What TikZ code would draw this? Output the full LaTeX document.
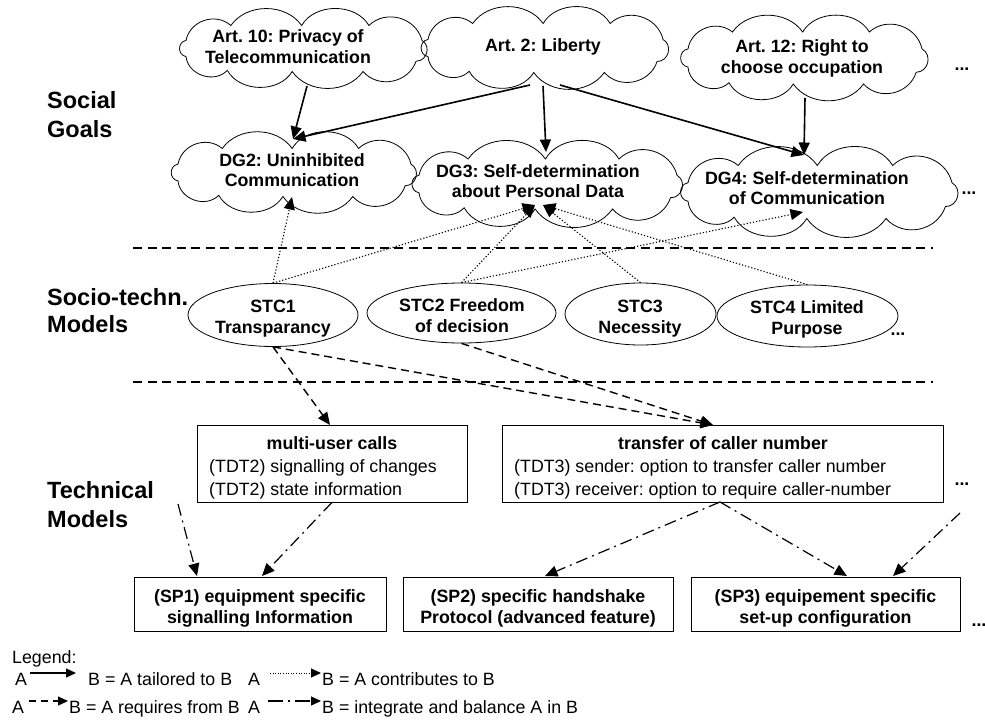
\documentclass[tikz,border=0pt]{standalone}
\usepackage{fontspec}
\setmainfont{Liberation Sans}
\usetikzlibrary{shapes.geometric,arrows.meta,calc}
\frenchspacing
\newcommand{\drawcloud}[5]{%
  \coordinate (#1) at (#2,#3);
  \pgfmathsetmacro{\cA}{#4/2-6}%
  \pgfmathsetmacro{\cB}{#5/2-14}%
  \draw[cloudline] ($(#1)+(-\cA,-0.35*\cB)$)
   \foreach \cu/\cv/\bd/\lo in {-0.62/-1/60/1.1, -0.02/-1/55/1, 0.55/-1/60/1, 1/-0.35/60/1.1, 0.95/0.55/75/1.3, 0.5/1/60/1.1, -0.1/1/55/1, -0.65/0.95/60/1, -1/0.35/65/1.1, -1/-0.35/80/1.4}
   { to[bend left=\bd, looseness=\lo] ($(#1)+(\cu*\cA,\cv*\cB)$) } -- cycle;
}
\begin{document}
\begin{tikzpicture}[x=1pt,y=-1pt,
 cloudline/.style={draw, line width=0.8pt},
 ctext/.style={font=\fontsize{17.8}{20}\selectfont\bfseries, inner sep=0pt, anchor=base},
 rowlbl/.style={font=\fontsize{23.5}{28}\selectfont\bfseries, inner sep=0pt, anchor=base west},
 oval/.style={ellipse, draw, line width=0.8pt, inner sep=0pt},
 tbox/.style={rectangle, draw, line width=0.8pt, inner sep=0pt},
 ntext/.style={font=\fontsize{17.8}{20}\selectfont, inner sep=0pt, anchor=base west},
 tip/.style={-{Triangle[length=12.5pt,width=11pt]}},
 smalltip/.style={-{Triangle[length=10pt,width=9pt]}},
 tailored/.style={line width=1.6pt},
 requires/.style={line width=1.4pt, dash pattern=on 8pt off 5pt},
 contrib/.style={line width=1.1pt, dash pattern=on 1.2pt off 2pt},
 integ/.style={line width=1.2pt, dash pattern=on 12pt off 5pt on 2pt off 5pt},
 sep/.style={line width=1.6pt, dash pattern=on 9pt off 5.5pt},
 dots/.style={font=\fontsize{17.8}{20}\selectfont\bfseries, inner sep=0pt},
]
\useasboundingbox (0,0) rectangle (985,720);

% row labels
\node[rowlbl] (rl1) at (47,108) {Social};
\node[rowlbl] (rl2) at (47,137) {Goals};
\node[rowlbl] (rl3) at (47,305) {Socio-techn.};
\node[rowlbl] (rl4) at (47,332) {Models};
\node[rowlbl] (rl5) at (47,498) {Technical};
\node[rowlbl] (rl6) at (47,527) {Models};

% clouds
\drawcloud{art10}{304}{48.5}{248}{74}
\drawcloud{art2}{545.5}{48}{247}{77}
\drawcloud{art12}{805}{58}{246}{80}
\drawcloud{dg2}{294.5}{172.5}{245}{76}
\drawcloud{dg3}{548}{184}{270}{78}
\drawcloud{dg4}{820}{192}{276}{81}

\node[ctext] (art10a) at (288,42) {Art. 10: Privacy of};
\node[ctext] (art10b) at (288,63) {Telecommunication};
\node[ctext] (art2a) at (543,51) {Art. 2: Liberty};
\node[ctext] (art12a) at (802,52) {Art. 12: Right to};
\node[ctext] (art12b) at (802,73) {choose occupation};
\node[ctext] (dg2a) at (292,166) {DG2: Uninhibited};
\node[ctext] (dg2b) at (292,186) {Communication};
\node[ctext] (dg3a) at (538,177) {DG3: Self-determination};
\node[ctext] (dg3b) at (538,197) {about Personal Data};
\node[ctext] (dg4a) at (807,184) {DG4: Self-determination};
\node[ctext] (dg4b) at (807,204) {of Communication};

\node[dots] (d1) at (962,69) {...};
\node[dots] (d2) at (969,193) {...};

% separators
\coordinate (s1a) at (133,248); \coordinate (s1b) at (933,248);
\coordinate (s2a) at (133,382); \coordinate (s2b) at (933,382);
\draw[sep] (s1a) -- (s1b);
\draw[sep] (s2a) -- (s2b);

% tailored arrows
\coordinate (art10out) at (307,86);
\coordinate (art2outL) at (530,85);
\coordinate (art2outM) at (543,86);
\coordinate (art2outR) at (560,85);
\coordinate (art12out) at (805,98);
\coordinate (dg2in) at (293,139);
\coordinate (dg3in) at (546,152);
\coordinate (dg4in) at (804,155);
\draw[tailored,tip] (art10out) -- (dg2in);
\draw[tailored,tip] (art2outL) -- (dg2in);
\draw[tailored,tip] (art2outM) -- (dg3in);
\draw[tailored,tip] (art2outR) -- (dg4in);
\draw[tailored,tip] (art12out) -- (dg4in);

% STC ellipses
\node[oval, minimum width=170pt, minimum height=63pt] (stc1) at (273,315) {};
\node[oval, minimum width=189pt, minimum height=60pt] (stc2) at (461.5,313) {};
\node[oval, minimum width=151pt, minimum height=62pt] (stc3) at (640.5,314) {};
\node[oval, minimum width=181pt, minimum height=62pt] (stc4) at (807.5,316) {};
\node[ctext] (stc1a) at (273,312) {STC1};
\node[ctext] (stc1b) at (273,333) {Transparancy};
\node[ctext] (stc2a) at (462,311) {STC2 Freedom};
\node[ctext] (stc2b) at (462,332) {of decision};
\node[ctext] (stc3a) at (640,312) {STC3};
\node[ctext] (stc3b) at (640,333) {Necessity};
\node[ctext] (stc4a) at (807,313) {STC4 Limited};
\node[ctext] (stc4b) at (807,334) {Purpose};
\node[dots] (d3) at (898,334) {...};

% contributes arrows
\coordinate (dg2bot) at (292,197);
\coordinate (dg3botL) at (535,205);
\coordinate (dg3botR) at (543,205);
\coordinate (dg4bot) at (803,212);
\draw[contrib,tip] (stc1.north) -- (dg2bot);
\draw[contrib,tip] (stc1.north) -- (dg3botL);
\draw[contrib,tip] (stc2.north) -- (dg3botL);
\draw[contrib,tip] (stc2.north) -- (dg4bot);
\draw[contrib,tip] (stc3.north) -- (dg3botR);
\draw[contrib,tip] (stc4.north) -- (dg3botR);

% technical boxes
\node[tbox, minimum width=270pt, minimum height=77pt] (mu) at (332,463.5) {};
\node[tbox, minimum width=441pt, minimum height=77pt] (tr) at (722.5,463.5) {};
\node[ctext] (mua) at (332,449) {multi-user calls};
\node[ntext] (mub) at (209,472) {(TDT2) signalling of changes};
\node[ntext] (muc) at (209,495) {(TDT2) state information};
\node[ctext] (tra) at (723,449) {transfer of caller number};
\node[ntext] (trb) at (514,472) {(TDT3) sender: option to transfer caller number};
\node[ntext] (trc) at (514,495) {(TDT3) receiver: option to require caller-number};
\node[dots] (d4) at (962,484) {...};

% requires arrows
\coordinate (muin) at (330,425);
\coordinate (trin) at (713,425);
\draw[requires,tip] (stc1.south) -- (muin);
\draw[requires,tip] (stc1.south) -- (trin);
\draw[requires,tip] (stc2.south) -- (trin);

% SP boxes
\node[tbox, minimum width=252pt, minimum height=54pt] (sp1) at (260,604) {};
\node[tbox, minimum width=270pt, minimum height=54pt] (sp2) at (538,604) {};
\node[tbox, minimum width=269pt, minimum height=54pt] (sp3) at (825.5,604) {};
\node[ctext] (sp1a) at (260,602) {(SP1) equipment specific};
\node[ctext] (sp1b) at (260,623) {signalling Information};
\node[ctext] (sp2a) at (538,602) {(SP2) specific handshake};
\node[ctext] (sp2b) at (538,623) {Protocol (advanced feature)};
\node[ctext] (sp3a) at (825.5,602) {(SP3) equipement specific};
\node[ctext] (sp3b) at (825.5,623) {set-up configuration};
\node[dots] (d5) at (979,625) {...};

% integrate arrows
\coordinate (techfree) at (178,504);
\coordinate (sp1inL) at (197,576);
\coordinate (sp1inR) at (262,576);
\coordinate (trout) at (720,502);
\coordinate (sp2in) at (545,576);
\coordinate (sp3inL) at (847,576);
\coordinate (sp3inR) at (893,576);
\coordinate (trfree) at (960,513);
\draw[integ,tip] (techfree) -- (sp1inL);
\draw[integ,tip] (mu.south) -- (sp1inR);
\draw[integ,tip] (trout) -- (sp2in);
\draw[integ,tip] (trout) -- (sp3inL);
\draw[integ,tip] (trfree) -- (sp3inR);

% legend
\node[ntext] (leg) at (12,663) {Legend:};
\node[ntext] (la1) at (15,685) {A};
\node[ntext] (lb1) at (88,685) {B = A tailored to B};
\coordinate (l1s) at (30,673); \coordinate (l1e) at (76,673);
\draw[line width=1.3pt,smalltip] (l1s) -- (l1e);
\node[ntext] (la2) at (12,713) {A};
\node[ntext] (lb2) at (69,713) {B = A requires from B};
\coordinate (l2s) at (29,701); \coordinate (l2e) at (68,701);
\draw[line width=1.3pt,dash pattern=on 7pt off 5pt,smalltip] (l2s) -- (l2e);
\node[ntext] (la3) at (248,685) {A};
\node[ntext] (lb3) at (322,685) {B = A contributes to B};
\coordinate (l3s) at (270,673); \coordinate (l3e) at (321,673);
\draw[line width=1pt,dash pattern=on 1pt off 1.6pt,smalltip] (l3s) -- (l3e);
\node[ntext] (la4) at (248,713) {A};
\node[ntext] (lb4) at (322,713) {B = integrate and balance A in B};
\coordinate (l4s) at (268,701); \coordinate (l4e) at (321,701);
\draw[line width=1.3pt,dash pattern=on 15pt off 5pt on 2pt off 5pt,smalltip] (l4s) -- (l4e);
\end{tikzpicture}
\end{document}
